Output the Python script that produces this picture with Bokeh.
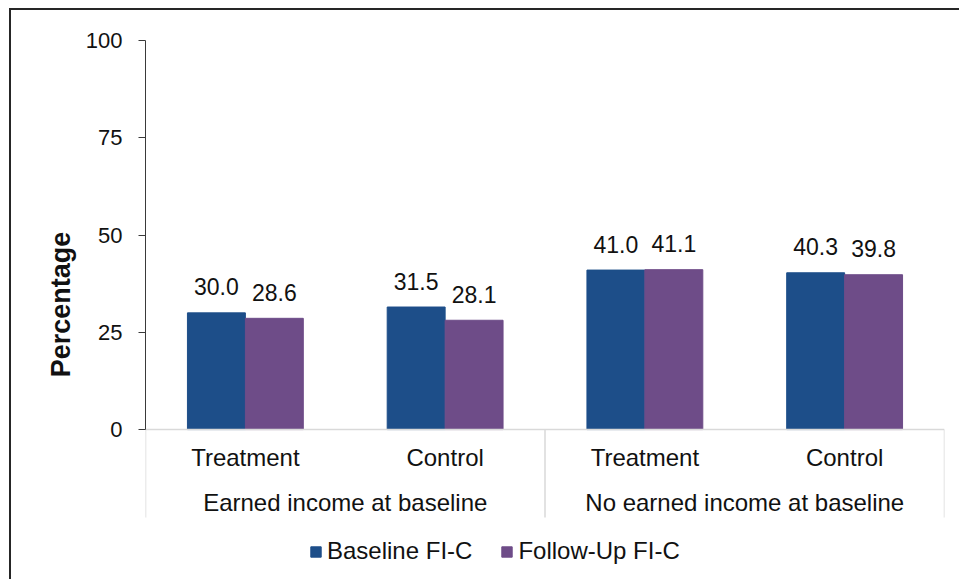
from bokeh.plotting import figure
from bokeh.models import Range1d, FixedTicker, Legend, LegendItem
from bokeh.core.properties import value
from bokeh.embed import file_html
from bokeh.resources import INLINE

# ---- data ----
groups = ["Earned income at baseline", "No earned income at baseline"]
arms = ["Treatment", "Control", "Treatment", "Control"]
baseline = [30.0, 31.5, 41.0, 40.3]
followup = [28.6, 28.1, 41.1, 39.8]
series_names = ["Baseline FI-C", "Follow-Up FI-C"]
y_ticks = [0, 25, 50, 75, 100]

BLUE = "#1D4E89"
PURPLE = "#6E4C88"
TXT = "#111111"
FONT = value("Liberation Sans")

n = len(arms)
centers = [i + 0.5 for i in range(n)]
bw = 0.29
xb = [c - bw / 2 for c in centers]
xf = [c + bw / 2 for c in centers]

p = figure(width=950, height=571, output_backend="svg", toolbar_location=None,
           x_range=Range1d(0, n), y_range=Range1d(-35.7, 100),
           x_axis_location=None,
           min_border_left=134, min_border_right=17, min_border_top=30, min_border_bottom=13)
p.styles = {"border-top": "2px solid #262626", "border-left": "2px solid #262626",
            "margin-top": "8px", "margin-left": "9px"}
p.outline_line_color = None
p.grid.visible = False
p.background_fill_color = "white"
p.border_fill_color = "white"

r1 = p.vbar(x=xb, top=baseline, width=bw, bottom=0, fill_color=BLUE, line_color=BLUE)
r2 = p.vbar(x=xf, top=followup, width=bw, bottom=0, fill_color=PURPLE, line_color=PURPLE)

# data labels
p.text(x=xb, y=baseline, text=[f"{v:.1f}" for v in baseline], y_offset=-26,
       text_font=FONT, text_font_size="23px", text_align="center", text_baseline="middle", text_color=TXT)
p.text(x=xf, y=followup, text=[f"{v:.1f}" for v in followup], y_offset=-26,
       text_font=FONT, text_font_size="23px", text_align="center", text_baseline="middle", text_color=TXT)

# category axis (two levels)
p.segment(x0=[0], y0=[0], x1=[n], y1=[0], line_color="#D9D9D9", line_width=1.5)
sep_x = [0, 2, 4]
p.segment(x0=sep_x, y0=[0] * 3, x1=sep_x, y1=[-22.6] * 3, line_color="#D9D9D9", line_width=1.5)
p.text(x=centers, y=[-7.2] * n, text=arms, text_font=FONT, text_font_size="24px",
       text_align="center", text_baseline="middle", text_color=TXT)
p.text(x=[1, 3], y=[-18.8] * 2, text=groups, text_font=FONT, text_font_size="24px",
       text_align="center", text_baseline="middle", text_color=TXT)

# y axis
ax = p.yaxis[0]
ax.bounds = (0, 100)
ax.ticker = FixedTicker(ticks=y_ticks)
ax.axis_line_color = "#3a3a3a"
ax.major_tick_line_color = "#3a3a3a"
ax.major_tick_out = 7
ax.major_tick_in = 0
ax.minor_tick_out = 0
ax.minor_tick_in = 0
ax.major_label_standoff = 16
ax.major_label_text_font = "Liberation Sans"
ax.major_label_text_font_size = "22px"
ax.major_label_text_color = TXT
ax.axis_label = "Percentage"
ax.axis_label_text_font = "Liberation Sans"
ax.axis_label_text_font_size = "27px"
ax.axis_label_text_font_style = "bold"
ax.axis_label_text_color = TXT
ax.axis_label_standoff = 7

legend = Legend(items=[LegendItem(label=series_names[0], renderers=[r1]),
                       LegendItem(label=series_names[1], renderers=[r2])],
                orientation="horizontal", location=(164, 3),
                glyph_width=13, glyph_height=13, label_standoff=5, spacing=28,
                padding=0, margin=0, border_line_color=None, background_fill_alpha=0,
                label_text_font="Liberation Sans", label_text_font_size="24px",
                label_text_color=TXT)
p.add_layout(legend, "center")

open("out.html", "w").write(file_html(p, INLINE))
